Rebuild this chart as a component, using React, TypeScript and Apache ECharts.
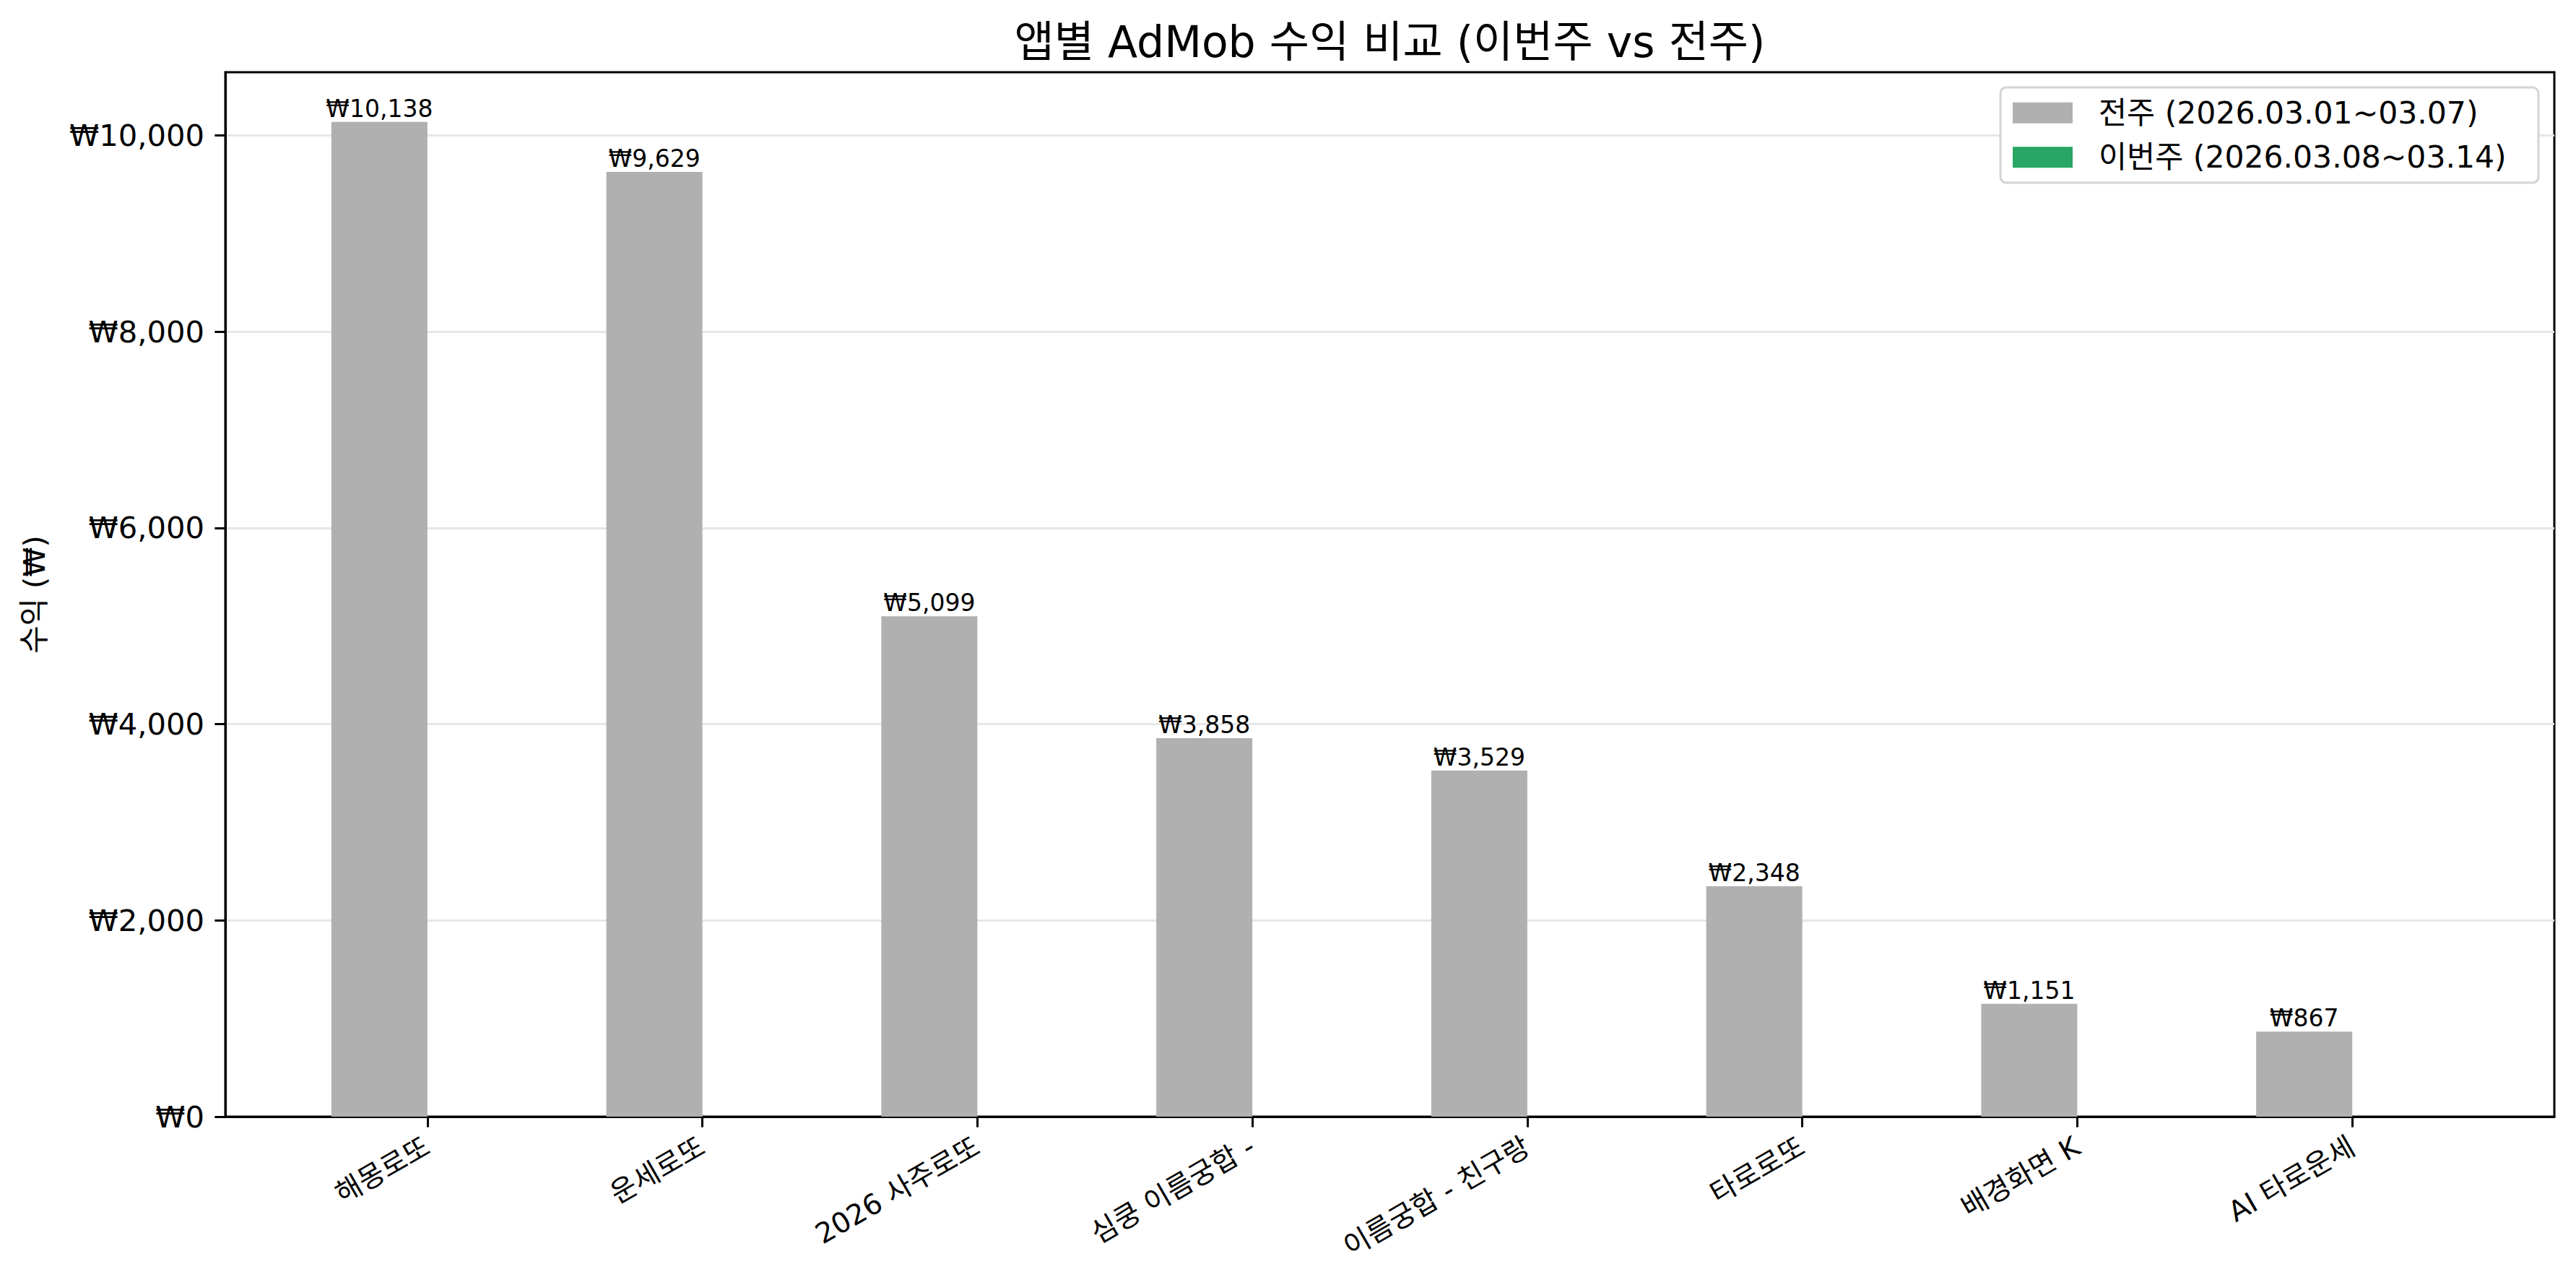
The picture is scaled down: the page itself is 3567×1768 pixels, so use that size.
import React, { useEffect, useRef } from 'react';
import * as echarts from 'echarts';

const categories = ['해몽로또', '운세로또', '2026 사주로또', '심쿵 이름궁합 -', '이름궁합 - 친구랑', '타로로또', '배경화면 K', 'AI 타로운세'];
const prevWeek = [10138, 9629, 5099, 3858, 3529, 2348, 1151, 867];
const thisWeek = [0, 0, 0, 0, 0, 0, 0, 0];
const seriesNames = ['전주 (2026.03.01~03.07)', '이번주 (2026.03.08~03.14)'];
const yTicks = [0, 2000, 4000, 6000, 8000, 10000];
const TITLE = '앱별 AdMob 수익 비교 (이번주 vs 전주)';
const Y_NAME = '수익 (₩)';

const W = 3567;
const H = 1768;
const FONT = "'DejaVu Sans', 'Noto Sans CJK KR', sans-serif";
const GRID = { left: 312, top: 100, right: 30, bottom: 222 };
const X_MIN = -0.735;
const X_MAX = 7.735;
const Y_MAX = 10645;
const PLOT_W = W - GRID.left - GRID.right;
const UNIT = PLOT_W / (X_MAX - X_MIN);
const BAR_W = Math.round(0.35 * UNIT);
const GRAY = '#b0b0b0';
const GREEN = '#27a664';

const won = (v: number) => '₩' + Math.round(v).toLocaleString('en-US');

export default function App() {
  const ref = useRef<HTMLDivElement>(null);
  useEffect(() => {
    document.body.style.margin = '0';
    document.body.style.overflow = 'hidden';
    const chart = echarts.init(ref.current!, null, { renderer: 'svg' });
    const idx = categories.map((_, i) => i);
    chart.setOption({
      animation: false,
      backgroundColor: '#ffffff',
      textStyle: { fontFamily: FONT, color: '#000' },
      graphic: [
        {
          type: 'text',
          x: GRID.left + PLOT_W / 2,
          y: 58,
          style: {
            text: TITLE,
            fontSize: 60,
            fontFamily: FONT,
            fill: '#000',
            align: 'center',
            verticalAlign: 'middle',
            textAlign: 'center',
            textVerticalAlign: 'middle',
          },
        },
      ],
      legend: {
        orient: 'vertical',
        right: 52,
        top: 121,
        padding: [14, 19, 14, 17],
        itemWidth: 83,
        itemHeight: 29,
        itemGap: 19,
        icon: 'rect',
        backgroundColor: '#ffffff',
        borderColor: '#d4d4d4',
        borderWidth: 3,
        borderRadius: 8,
        textStyle: { fontSize: 42.5, lineHeight: 42, width: 590, color: '#000', fontFamily: FONT, padding: [0, 0, 0, 31] },
        data: seriesNames,
      },
      grid: {
        left: GRID.left,
        top: GRID.top,
        right: GRID.right,
        bottom: GRID.bottom,
        show: true,
        borderColor: '#000',
        borderWidth: 3,
        backgroundColor: 'transparent',
        containLabel: false,
        outerBoundsMode: 'none',
      },
      xAxis: {
        type: 'value',
        min: X_MIN,
        max: X_MAX,
        splitLine: { show: false },
        axisLine: { show: true, onZero: false, lineStyle: { color: '#000', width: 3 } },
        axisTick: { show: true, customValues: idx, length: 14.6, lineStyle: { color: '#000', width: 3 } },
        axisLabel: {
          customValues: idx,
          rotate: 30,
          margin: 38,
          fontSize: 39,
          lineHeight: 39,
          color: '#000',
          fontFamily: FONT,
          formatter: (v: number) => categories[Math.round(v)] ?? '',
        },
      },
      yAxis: {
        type: 'value',
        min: 0,
        max: Y_MAX,
        interval: 2000,
        name: Y_NAME,
        nameLocation: 'middle',
        nameGap: 244,
        nameTextStyle: { fontSize: 41.7, color: '#000', fontFamily: FONT },
        axisLine: { show: true, onZero: false, lineStyle: { color: '#000', width: 3 } },
        axisTick: { show: true, customValues: yTicks, length: 14.6, lineStyle: { color: '#000', width: 3 } },
        axisLabel: {
          customValues: yTicks,
          margin: 29,
          fontSize: 41.7,
          color: '#000',
          fontFamily: FONT,
          formatter: (v: number) => won(v),
        },
        splitLine: { show: true, lineStyle: { color: '#e6e6e6', width: 3 } },
      },
      series: [
        {
          type: 'bar',
          name: seriesNames[0],
          data: idx.map((i) => [i, prevWeek[i]]),
          barWidth: BAR_W,
          barGap: '0%',
          itemStyle: { color: GRAY },
          label: {
            show: true,
            position: 'top',
            distance: 2,
            fontSize: 33,
            color: '#000',
            fontFamily: FONT,
            formatter: (p: any) => won(p.value[1]),
          },
          z: 3,
        },
        {
          type: 'bar',
          name: seriesNames[1],
          data: idx.map((i) => [i, thisWeek[i]]),
          barWidth: BAR_W,
          barGap: '0%',
          itemStyle: { color: GREEN },
          z: 3,
        },
      ],
    });
    return () => chart.dispose();
  }, []);
  return <div ref={ref} style={{ width: W, height: H }} />;
}
